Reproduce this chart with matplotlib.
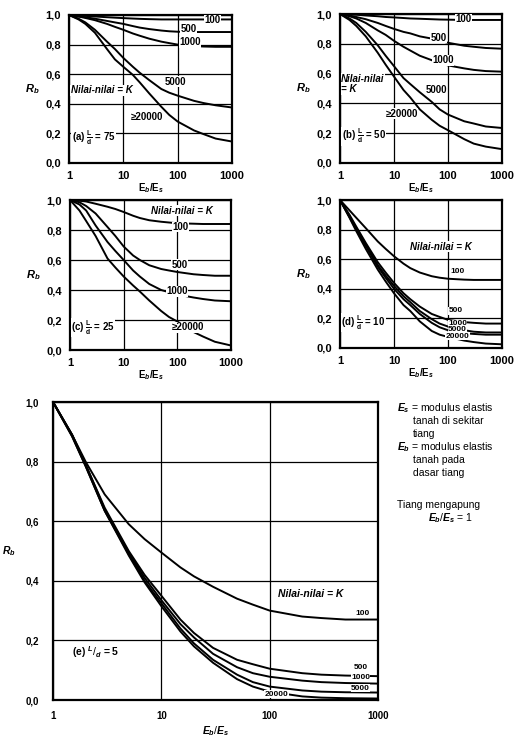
import matplotlib.pyplot as plt

plt.rcParams['font.family'] = ['Liberation Sans', 'DejaVu Sans']
plt.rcParams['mathtext.fontset'] = 'custom'
plt.rcParams['mathtext.rm'] = 'Liberation Sans'
plt.rcParams['mathtext.it'] = 'Liberation Sans:italic:bold'
plt.rcParams['mathtext.bf'] = 'Liberation Sans:bold'

# Eb/Es values where the curves were read
ratio = [1, 1.5, 2, 3, 5, 7, 10, 15, 20, 30, 50, 70, 100, 200, 300, 500, 1000]

x_ticks = [1, 10, 100, 1000]
x_ticklabels = ['1', '10', '100', '1000']
y_ticks = [0.0, 0.2, 0.4, 0.6, 0.8, 1.0]
y_ticklabels = ['0,0', '0,2', '0,4', '0,6', '0,8', '1,0']

# (a) L/d = 75
a_k = ['100', '500', '1000', '5000', '≥20000']
a_rb = [
    [1, .997, .994, .99, .985, .982, .979, .976, .974, .972, .97, .97, .97, .97, .97, .97, .97],
    [1, .99, .985, .975, .96, .95, .94, .925, .915, .905, .895, .89, .887, .885, .885, .885, .885],
    [1, .99, .98, .965, .94, .92, .90, .875, .86, .84, .82, .81, .80, .79, .787, .785, .785],
    [1, .975, .95, .90, .82, .77, .71, .65, .61, .56, .50, .475, .455, .42, .405, .39, .375],
    [1, .97, .94, .88, .77, .70, .65, .595, .545, .47, .38, .325, .28, .22, .195, .165, .145],
]

# (b) L/d = 50
b_k = ['100', '500', '1000', '5000', '≥20000']
b_rb = [
    [1, .997, .995, .99, .985, .98, .977, .973, .97, .968, .965, .963, .962, .96, .96, .96, .96],
    [1, .99, .98, .965, .94, .92, .90, .88, .87, .85, .835, .82, .807, .787, .78, .772, .767],
    [1, .985, .97, .94, .89, .86, .82, .78, .755, .72, .69, .67, .655, .635, .625, .617, .613],
    [1, .97, .94, .88, .79, .72, .65, .57, .53, .475, .41, .36, .325, .28, .265, .245, .235],
    [1, .96, .92, .85, .74, .66, .58, .49, .44, .36, .29, .25, .22, .16, .13, .11, .093],
]

# (c) L/d = 25
c_k = ['100', '500', '1000', '≥20000']
c_rb = [
    [1, .995, .99, .975, .955, .94, .92, .895, .88, .865, .855, .85, .845, .842, .84, .84, .84],
    [1, .985, .96, .91, .82, .76, .69, .63, .60, .565, .54, .53, .52, .505, .50, .495, .495],
    [1, .97, .93, .83, .72, .66, .60, .53, .49, .44, .40, .385, .37, .35, .34, .33, .325],
    [1, .93, .86, .76, .61, .55, .49, .43, .39, .33, .26, .22, .19, .12, .09, .055, .03],
]

# (d) L/d = 10
d_k = ['100', '500', '1000', '5000', '20000']
d_rb = [
    [1, .93, .88, .81, .72, .67, .62, .57, .54, .51, .485, .475, .468, .462, .46, .46, .46],
    [1, .90, .82, .71, .58, .51, .44, .37, .33, .28, .23, .21, .19, .175, .17, .165, .165],
    [1, .89, .81, .70, .56, .49, .42, .35, .31, .25, .195, .165, .145, .12, .11, .105, .105],
    [1, .885, .80, .69, .55, .475, .40, .33, .29, .23, .17, .14, .12, .10, .095, .09, .09],
    [1, .88, .79, .67, .53, .45, .37, .29, .25, .18, .115, .09, .075, .05, .04, .03, .025],
]

# (e) L/d = 5
e_k = ['100', '500', '1000', '5000', '20000']
e_rb = [
    [1, .89, .80, .69, .59, .54, .495, .445, .415, .38, .34, .32, .30, .28, .275, .27, .27],
    [1, .89, .79, .645, .50, .42, .35, .27, .225, .175, .135, .12, .105, .09, .085, .082, .08],
    [1, .89, .79, .64, .495, .41, .335, .255, .21, .155, .11, .09, .078, .065, .06, .057, .055],
    [1, .885, .785, .635, .49, .40, .325, .24, .19, .135, .085, .06, .045, .032, .028, .026, .025],
    [1, .885, .785, .635, .485, .395, .315, .23, .18, .125, .07, .045, .028, .012, .008, .006, .005],
]

BOX = dict(fc='white', ec='none', pad=0.3)


def draw_panel(ax, rb, fs):
    for y in rb:
        ax.plot(ratio, y, color='black', lw=1.4, zorder=3)
    ax.set_xscale('log')
    ax.set_xlim(1, 1000)
    ax.set_ylim(0, 1.0)
    ax.set_xticks(x_ticks)
    ax.set_xticklabels(x_ticklabels, fontsize=fs, fontweight='bold')
    ax.set_yticks(y_ticks)
    ax.set_yticklabels(y_ticklabels, fontsize=fs, fontweight='bold')
    ax.minorticks_off()
    ax.tick_params(length=0, pad=6)
    ax.grid(True, color='black', lw=0.9)
    for s in ax.spines.values():
        s.set_linewidth(1.6)


def label(ax, x, y, s, fs=7):
    ax.text(x, y, s, fontsize=fs, fontweight='bold', ha='center', va='center',
            zorder=4, bbox=BOX)


def note(ax, x, y, s, fs=7, **kw):
    ax.text(x, y, s, fontsize=fs, fontweight='bold', va='center', zorder=4, bbox=BOX, **kw)


fig = plt.figure(figsize=(5.25, 7.42), dpi=100)
W, H = 525, 742


def add_axes(x0, y0, x1, y1):
    return fig.add_axes([x0 / W, 1 - y1 / H, (x1 - x0) / W, (y1 - y0) / H])


ax_a = add_axes(69, 15, 232, 163)
ax_b = add_axes(340, 14, 502, 163)
ax_c = add_axes(70, 200, 231, 350)
ax_d = add_axes(340, 200, 502, 348)
ax_e = add_axes(53, 402, 378, 700)

for ax, rb in [(ax_a, a_rb), (ax_b, b_rb), (ax_c, c_rb), (ax_d, d_rb)]:
    draw_panel(ax, rb, 8)
    ax.set_xlabel('E$_b$/E$_s$', fontsize=7, fontweight='bold', labelpad=0)
    ax.set_ylabel('$R_b$', fontsize=8, rotation=0, labelpad=9, va='center')

draw_panel(ax_e, e_rb, 7)
ax_e.set_xlabel('$E_b/E_s$', fontsize=7.5, labelpad=2)
ax_e.set_ylabel('$R_b$', fontsize=7.5, rotation=0, labelpad=12, va='center')
ax_e.tick_params(axis='y', pad=10)
ax_e.tick_params(axis='x', pad=8)

# panel (a)
for (x, y), k in zip([(430, .965), (160, .905), (170, .815), (92, .55), (27, .31)], a_k):
    label(ax_a, x, y, k)
note(ax_a, 1.08, 0.49, 'Nilai-nilai = K', style='italic')
note(ax_a, 1.12, 0.17, r'(a) $\mathbf{\frac{L}{d}}$ = 75')

# panel (b)
for (x, y), k in zip([(190, .965), (66, .84), (80, .69), (60, .49), (14, .33)], b_k):
    label(ax_b, x, y, k)
note(ax_b, 1.05, 0.53, 'Nilai-nilai\n= K', style='italic', linespacing=1.1)
note(ax_b, 1.08, 0.18, r'(b) $\mathbf{\frac{L}{d}}$ = 50')

# panel (c)
for (x, y), k in zip([(115, .82), (110, .57), (100, .39), (160, .15)], c_k):
    label(ax_c, x, y, k)
note(ax_c, 33, 0.93, 'Nilai-nilai = K', style='italic')
note(ax_c, 1.06, 0.15, r'(c) $\mathbf{\frac{L}{d}}$ = 25')

# panel (d)
for (x, y), k in zip([(150, .52), (140, .25), (150, .165), (150, .125), (150, .08)], d_k):
    label(ax_d, x, y, k, fs=6)
note(ax_d, 20, 0.685, 'Nilai-nilai = K', style='italic')
note(ax_d, 1.06, 0.17, r'(d) $\mathbf{\frac{L}{d}}$ = 10')

# panel (e)
for (x, y), k in zip([(720, .29), (690, .11), (690, .075), (690, .04), (115, .02)], e_k):
    label(ax_e, x, y, k, fs=6)
note(ax_e, 120, 0.357, 'Nilai-nilai = K', fs=7.5, style='italic')
note(ax_e, 1.5, 0.16, r'(e) $^{L}/_{d}$ = 5', fs=7.5)

# legend text on the right of panel (e)
legend_lines = [
    (397, 408, '$E_s$ = modulus elastis'),
    (413, 421, 'tanah di sekitar'),
    (413, 434, 'tiang'),
    (397, 447, '$E_b$ = modulus elastis'),
    (413, 460, 'tanah pada'),
    (413, 473, 'dasar tiang'),
    (397, 505, 'Tiang mengapung'),
    (428, 518, '$E_b/E_s$ = 1'),
]
for x, y, s in legend_lines:
    fig.text(x / W, 1 - y / H, s, fontsize=7.5, va='center', ha='left')

fig.savefig('out.png', dpi=100)
